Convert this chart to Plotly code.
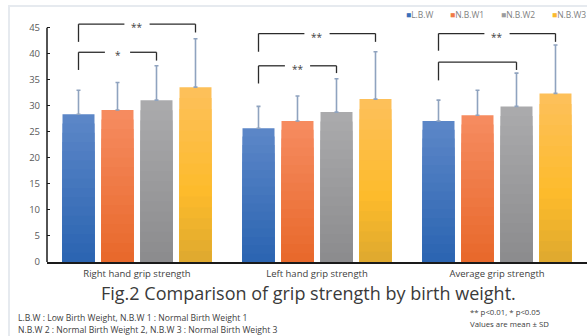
import plotly.graph_objects as go

# ---- data: grip strength (kg), mean and SD per birth-weight group ----
categories = ["Right hand grip strength", "Left hand grip strength", "Average grip strength"]
group_names = ["L.B.W", "N.B.W1", "N.B.W2", "N.B.W3"]

lbw_mean = [28.4, 25.7, 27.1]
lbw_sd = [4.6, 4.2, 4.0]
nbw1_mean = [29.2, 27.1, 28.2]
nbw1_sd = [5.3, 4.8, 4.8]
nbw2_mean = [31.1, 28.8, 29.9]
nbw2_sd = [6.6, 6.4, 6.4]
nbw3_mean = [33.6, 31.3, 32.4]
nbw3_sd = [9.3, 9.1, 9.3]

y_tick_values = [0, 5, 10, 15, 20, 25, 30, 35, 40, 45]

means = [lbw_mean, nbw1_mean, nbw2_mean, nbw3_mean]
sds = [lbw_sd, nbw1_sd, nbw2_sd, nbw3_sd]

# significance brackets: (category, from group, to group, top, left end, right end, label)
brackets = [
    (0, 0, 3, 45.7, 42.3, 44.1, "**"),
    (0, 0, 2, 40.3, 36.9, 38.7, "*"),
    (1, 0, 3, 43.9, 40.4, 42.3, "**"),
    (1, 0, 2, 37.7, 34.3, 36.3, "**"),
    (2, 0, 3, 43.9, 40.6, 42.3, "**"),
    (2, 0, 2, 38.4, 34.9, 36.9, ""),
]

# ---- styling ----
FONT = "Open Sans"
# vertical gradient stops (0 = top of bar, 1 = bottom)
gradients = [
    [(0.0, "#5d87c8"), (1.0, "#2a64b1")],
    [(0.0, "#f68c61"), (1.0, "#e8682a")],
    [(0.0, "#ababad"), (1.0, "#8b8b8d")],
    [(0.0, "#fdc05c"), (0.6, "#fdbb2b"), (1.0, "#dea92f")],
]
legend_colors = ["#3b6fba", "#f07a45", "#9c9c9e", "#fbb92f"]
BARGAP = 0.1333
BARGROUPGAP = 0.18
BANDS = 16


def hex_to_rgb(h):
    h = h.lstrip("#")
    return [int(h[i:i + 2], 16) for i in (0, 2, 4)]


def gradient_color(stops, t):
    for (p0, c0), (p1, c1) in zip(stops[:-1], stops[1:]):
        if p0 <= t <= p1:
            f = (t - p0) / (p1 - p0) if p1 > p0 else 0
            a, b = hex_to_rgb(c0), hex_to_rgb(c1)
            return "rgb({},{},{})".format(*[round(a[i] + (b[i] - a[i]) * f) for i in range(3)])
    return stops[-1][1]


fig = go.Figure()

for gi, name in enumerate(group_names):
    # full-height bar carrying the error bar, then progressively shorter
    # bars on top of it to build a top-to-bottom colour gradient
    for k in range(BANDS):
        frac = (BANDS - k) / BANDS
        color = gradient_color(gradients[gi], (k + 0.5) / BANDS)
        trace = dict(
            x=categories,
            y=[m * frac for m in means[gi]],
            name=name,
            offsetgroup=name,
            marker=dict(color=color, line=dict(width=0)),
            showlegend=False,
            hoverinfo="skip" if k else None,
        )
        if k == 0:
            trace["error_y"] = dict(
                type="data", symmetric=False, array=sds[gi],
                arrayminus=[0] * len(sds[gi]),
                color="#8fa3bf", thickness=1.6, width=2,
            )
        fig.add_trace(go.Bar(**trace))

slot = (1 - BARGAP) / len(group_names)


def bar_center(cat, grp):
    return cat + (grp - (len(group_names) - 1) / 2) * slot


shapes = []
annotations = []
line_style = dict(color="#2b2b2b", width=1.3)
gap_half = 0.07
for cat, g0, g1, top, yl, yr, label in brackets:
    x0, x1 = bar_center(cat, g0), bar_center(cat, g1)
    shapes.append(dict(type="line", xref="x", yref="y", x0=x0, x1=x0, y0=yl, y1=top, line=line_style))
    shapes.append(dict(type="line", xref="x", yref="y", x0=x1, x1=x1, y0=yr, y1=top, line=line_style))
    mid = (x0 + x1) / 2
    if label:
        shapes.append(dict(type="line", xref="x", yref="y", x0=x0, x1=mid - gap_half, y0=top, y1=top, line=line_style))
        shapes.append(dict(type="line", xref="x", yref="y", x0=mid + gap_half, x1=x1, y0=top, y1=top, line=line_style))
        annotations.append(dict(x=mid, y=top, xref="x", yref="y", text=label, showarrow=False,
                                font=dict(family=FONT, size=10, color="#404040"), yshift=-3))
    else:
        shapes.append(dict(type="line", xref="x", yref="y", x0=x0, x1=x1, y0=top, y1=top, line=line_style))

# y axis line stopping at the top tick
shapes.append(dict(type="line", xref="paper", yref="y", x0=0, x1=0, y0=0, y1=45,
                   line=dict(color="#1a1a1a", width=1.5)))

# light frame around the figure
shapes.append(dict(type="rect", xref="paper", yref="paper", x0=-0.0704, x1=1.05, y0=-0.5, y1=1.058,
                   line=dict(color="#e6eaef", width=2), fillcolor="rgba(0,0,0,0)", layer="below"))

# compact legend row
legend_x = [0.662, 0.7435, 0.8375, 0.9315]
for name, color, lx in zip(group_names, legend_colors, legend_x):
    annotations.append(dict(
        x=lx, y=1.022, xref="paper", yref="paper", xanchor="left", yanchor="middle",
        text=f"<span style='color:{color}'>■</span>{name}", showarrow=False,
        font=dict(family=FONT, size=8.5, color="#7f7f7f"),
    ))

# caption and notes
note_font = dict(family=FONT, size=8.6, color="#404040")
side_font = dict(family=FONT, size=7.8, color="#404040")
annotations.append(dict(x=0.485, y=-0.127, xref="paper", yref="paper", xanchor="center", yanchor="middle",
                        text="Fig.2 Comparison of grip strength by birth weight.", showarrow=False,
                        font=dict(family=FONT, size=18, color="#3a3a3a")))
annotations.append(dict(x=-0.058, y=-0.233, xref="paper", yref="paper", xanchor="left", yanchor="middle",
                        text="L.B.W : Low Birth Weight, N.B.W 1 : Normal Birth Weight 1", showarrow=False,
                        font=note_font))
annotations.append(dict(x=-0.058, y=-0.279, xref="paper", yref="paper", xanchor="left", yanchor="middle",
                        text="N.B.W 2 : Normal Birth Weight 2, N.B.W 3 : Normal Birth Weight 3", showarrow=False,
                        font=note_font))
annotations.append(dict(x=0.780, y=-0.208, xref="paper", yref="paper", xanchor="left", yanchor="middle",
                        text="** p<0.01, * p<0.05", showarrow=False, font=side_font))
annotations.append(dict(x=0.780, y=-0.256, xref="paper", yref="paper", xanchor="left", yanchor="middle",
                        text="Values are mean ± SD", showarrow=False, font=side_font))

fig.update_layout(
    width=587, height=336,
    margin=dict(l=47, r=0, t=20, b=74),
    paper_bgcolor="white", plot_bgcolor="white",
    barmode="group", bargap=BARGAP, bargroupgap=BARGROUPGAP,
    font=dict(family=FONT, color="#404040"),
    shapes=shapes, annotations=annotations,
    showlegend=False,
    xaxis=dict(
        showline=True, linecolor="#1a1a1a", linewidth=2, ticks="", showgrid=False,
        tickfont=dict(family=FONT, size=9.5, color="#404040"),
        ticklabelstandoff=2,
    ),
    yaxis=dict(
        range=[0, 46.5], tickvals=y_tick_values, showline=False, showgrid=False, zeroline=False,
        ticks="inside", ticklen=3, tickcolor="#1a1a1a", tickwidth=1,
        tickfont=dict(family=FONT, size=9.5, color="#595959"),
        ticklabelstandoff=6,
    ),
)

fig.write_html("out.html")
